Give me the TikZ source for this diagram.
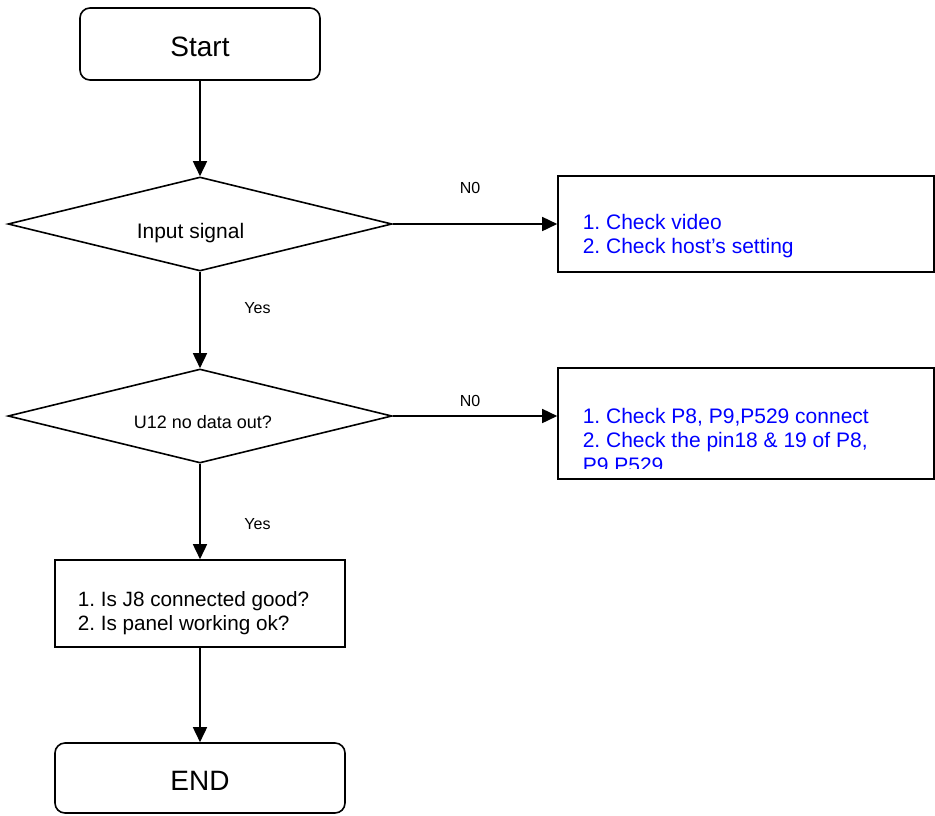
\documentclass[tikz,border=0pt]{standalone}
\usepackage{fontspec}
\setmainfont{Liberation Sans}
\usetikzlibrary{shapes.geometric,arrows.meta}
\definecolor{txtblue}{RGB}{0,0,255}
\frenchspacing
\begin{document}
\begin{tikzpicture}[x=1pt,y=-1pt,
  line width=1.6pt,
  arr/.style={-{Triangle[length=15pt,width=14pt]}},
  term/.style={draw, rounded corners=10pt, inner sep=0pt},
  termtext/.style={font=\fontsize{28}{32}\selectfont, inner sep=0pt, anchor=base},
  dec/.style={draw, diamond, inner sep=0pt, minimum width=384pt, minimum height=94pt},
  box/.style={draw, rectangle, inner sep=0pt},
  bluetext/.style={font=\fontsize{21}{24.5}\selectfont, text=txtblue, align=left, inner sep=0pt, anchor=west},
  blacktext/.style={font=\fontsize{20.7}{24.5}\selectfont, align=left, inner sep=0pt, anchor=west},
  lbl/.style={font=\fontsize{16}{18}\selectfont, inner sep=0pt, anchor=base}]
\useasboundingbox (0,0) rectangle (935,815);
\node[term, minimum width=240pt, minimum height=72pt] (start) at (200,44) {};
\node[termtext] (starttxt) at (200,56) {Start};
\node[dec] (d1) at (200,224) {};
\node[font=\fontsize{21}{24}\selectfont, inner sep=0pt, anchor=base west] (t1) at (136,238) {Input signal};
\node[box, minimum width=376pt, minimum height=96pt] (b1) at (746,224) {};
\node[bluetext] (bt1) at (582,236) {1. Check video\\2. Check host’s setting};
\node[dec] (d2) at (200,416) {};
\node[font=\fontsize{18}{22}\selectfont, inner sep=0pt, anchor=base west] (t2) at (133,428) {U12 no data out?};
\node[box, minimum width=376pt, minimum height=111pt] (b2) at (746,423.5) {};
\begin{scope}
  \clip (559,369) rectangle (933,468);
  \node[bluetext] (bt2) at (582,440) {1. Check P8, P9,P529 connect\\2. Check the pin18 \& 19 of P8,\\P9.P529};
\end{scope}
\node[box, minimum width=290pt, minimum height=87pt] (b3) at (200,603.5) {};
\node[blacktext] (bt3) at (77,613) {1. Is J8 connected good?\\2. Is panel working ok?};
\node[term, minimum width=290pt, minimum height=70pt] (end) at (200,778) {};
\node[termtext] (endtxt) at (200,790) {END};
\node[lbl] (n1) at (470,193) {N0};
\node[lbl] (n2) at (470,406) {N0};
\node[lbl] (y1) at (257.5,313) {Yes};
\node[lbl] (y2) at (257.5,529) {Yes};
\draw[arr] (start) -- (d1);
\draw[arr] (d1.east) -- (b1.west);
\draw[arr] (d1.south) -- (d2.north);
\draw[arr] (d2.east) -- (d2.east -| b2.west);
\draw[arr] (d2.south) -- (b3.north);
\draw[arr] (b3.south) -- (end.north);
\end{tikzpicture}
\end{document}
